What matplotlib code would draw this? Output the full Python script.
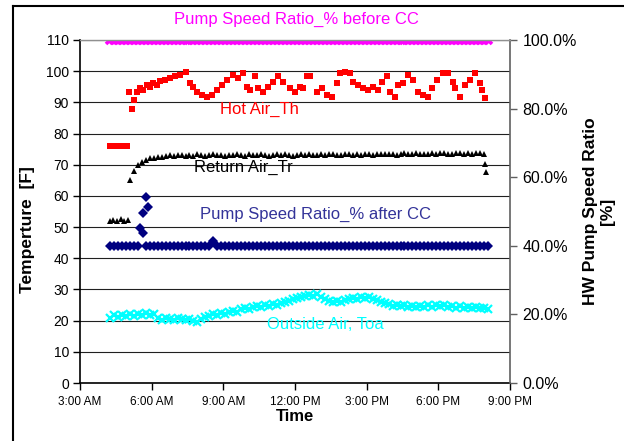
import numpy as np
import matplotlib
matplotlib.use("Agg")
import matplotlib.pyplot as plt
from matplotlib.lines import Line2D
from matplotlib.ticker import PercentFormatter

plt.rcParams['font.family'] = ['Liberation Sans', 'DejaVu Sans']

# time in hours of day, 10-minute log from 4:15 AM to 8:05 PM
grid = np.arange(4.25, 20.1, 1 / 6)

hour_ticks = [3, 6, 9, 12, 15, 18, 21]
hour_labels = ["3:00 AM", "6:00 AM", "9:00 AM", "12:00 PM", "3:00 PM", "6:00 PM", "9:00 PM"]

# Hot Air_Th [F]
hot_t = [4.27, 4.37, 4.47, 4.57, 4.67, 4.77, 4.87, 4.97,
         5.05, 5.16, 5.26, 5.37, 5.51, 5.64, 5.79, 5.93, 6.06, 6.21, 6.35, 6.56,
         6.77, 6.98, 7.19, 7.44, 7.60, 7.73, 7.88, 8.09, 8.30, 8.51, 8.72, 8.93,
         9.14, 9.40, 9.61, 9.82, 9.98, 10.12, 10.33, 10.45, 10.66, 10.87, 11.08,
         11.29, 11.50, 11.79, 12.00, 12.21, 12.33, 12.49, 12.63, 12.91, 13.11,
         13.32, 13.54, 13.75, 13.88, 14.09, 14.30, 14.44, 14.65, 14.86, 15.07,
         15.28, 15.49, 15.63, 15.84, 15.98, 16.19, 16.32, 16.53, 16.74, 16.95,
         17.16, 17.37, 17.58, 17.72, 17.93, 18.21, 18.42, 18.63, 18.70, 18.91,
         19.12, 19.32, 19.53, 19.74, 19.81, 19.95]
hot_v = [76, 76, 76, 76, 76, 76, 76, 76,
         93.4, 87.9, 90.8, 93.4, 94.5, 94.0, 95.6, 95.0, 96.1, 95.6, 96.7, 97.2,
         97.7, 98.3, 98.8, 99.6, 96.1, 95.0, 93.4, 92.4, 91.8, 92.4, 94.0, 95.6,
         97.2, 98.8, 97.7, 99.3, 95.0, 94.0, 98.3, 94.5, 93.4, 95.0, 96.6,
         98.3, 96.6, 94.5, 93.4, 95.0, 94.5, 98.3, 98.3, 93.4, 94.5,
         92.4, 91.8, 96.1, 99.3, 99.8, 99.3, 96.6, 95.6, 94.5, 94.0,
         95.0, 94.0, 96.6, 98.3, 93.4, 91.8, 95.6, 96.1, 98.8, 97.2,
         93.4, 92.4, 91.8, 94.5, 97.2, 99.3, 99.3, 96.6, 94.5, 91.8,
         95.6, 97.2, 99.3, 96.1, 94.0, 91.3]

# Return Air_Tr [F]
ret_early_t = [4.25, 4.4, 4.55, 4.7, 4.85, 5.0]
ret_early_v = [52.0, 52.4, 52.0, 52.5, 52.1, 52.3]
ret_v = [np.nan, np.nan, np.nan, np.nan, np.nan, 65.0, 68.0, 69.8, 70.8, 71.5,
         72.0, 72.3, 72.6, 72.4, 72.8, 73.0, 72.7, 73.1, 73.0, 72.8,
         73.2, 72.9, 73.3, 73.0, 72.8, 73.2, 73.4, 73.0, 73.1, 72.8,
         73.2, 73.0, 73.4, 73.1, 72.9, 73.3, 73.0, 73.2, 73.5, 73.1,
         72.9, 73.2, 73.4, 73.0, 73.3, 73.1, 72.9, 73.2, 73.4, 73.1,
         73.3, 73.0, 73.2, 73.4, 73.1, 73.3, 73.5, 73.2, 73.0, 73.3,
         73.5, 73.2, 73.4, 73.1, 73.3, 73.6, 73.2, 73.4, 73.5, 73.3,
         73.6, 73.4, 73.2, 73.5, 73.7, 73.4, 73.6, 73.8, 73.5, 73.3,
         73.6, 73.8, 73.5, 73.7, 73.9, 73.6, 73.4, 73.7, 73.9, 73.6,
         73.8, 73.5, 73.7, 73.9, 73.6, np.nan]
ret_tail_t = [19.97, 19.98]
ret_tail_v = [70.3, 67.8]

# Outside Air, Toa [F]
toa_v = [21.0, 21.8, 21.2, 21.9, 21.4, 22.0, 21.5, 22.2, 21.7, 22.3,
         21.8, 22.1, 20.8, 20.3, 21.0, 20.5, 20.2, 20.8, 20.4, 20.1,
         20.6, 20.0, 19.6, 20.4, 21.2, 21.6, 22.0, 21.7, 22.4, 22.0,
         22.8, 23.2, 22.9, 23.6, 24.0, 23.6, 24.3, 24.8, 24.4, 25.0,
         24.6, 25.2, 25.0, 25.6, 26.0, 26.4, 26.8, 27.2, 27.6, 28.0,
         28.3, 28.0, 28.4, 27.6, 27.0, 26.4, 26.0, 26.3, 26.0, 26.6,
         26.9, 27.3, 27.0, 27.5, 27.2, 27.6, 27.1, 26.6, 26.0, 25.6,
         25.2, 24.8, 25.1, 24.6, 24.9, 24.4, 24.8, 24.3, 24.7, 24.4,
         24.9, 24.5, 25.0, 24.6, 24.9, 24.3, 24.7, 24.2, 24.6, 24.1,
         24.5, 24.0, 24.4, 23.9, 24.2, 23.8]

# Pump Speed Ratio before CC [fraction]
before_v = [1.0, 1.0, 1.0, 1.0, 1.0, 1.0, 1.0, 1.0, 1.0, 1.0, 1.0, 1.0,
            1.0, 1.0, 1.0, 1.0, 1.0, 1.0, 1.0, 1.0, 1.0, 1.0, 1.0, 1.0,
            1.0, 1.0, 1.0, 1.0, 1.0, 1.0, 1.0, 1.0, 1.0, 1.0, 1.0, 1.0,
            1.0, 1.0, 1.0, 1.0, 1.0, 1.0, 1.0, 1.0, 1.0, 1.0, 1.0, 1.0,
            1.0, 1.0, 1.0, 1.0, 1.0, 1.0, 1.0, 1.0, 1.0, 1.0, 1.0, 1.0,
            1.0, 1.0, 1.0, 1.0, 1.0, 1.0, 1.0, 1.0, 1.0, 1.0, 1.0, 1.0,
            1.0, 1.0, 1.0, 1.0, 1.0, 1.0, 1.0, 1.0, 1.0, 1.0, 1.0, 1.0,
            1.0, 1.0, 1.0, 1.0, 1.0, 1.0, 1.0, 1.0, 1.0, 1.0, 1.0, 1.0]

# Pump Speed Ratio after CC [fraction]
after_v = [0.40, 0.40, 0.40, 0.40, 0.40, 0.40, 0.40, 0.40, np.nan, 0.40,
           0.40, 0.40, 0.40, 0.40, 0.40, 0.40, 0.40, 0.40, 0.40, 0.40,
           0.40, 0.40, 0.40, 0.40, 0.40, 0.40, 0.415, 0.40, 0.40, 0.40,
           0.40, 0.40, 0.40, 0.40, 0.40, 0.40, 0.40, 0.40, 0.40, 0.40,
           0.40, 0.40, 0.40, 0.40, 0.40, 0.40, 0.40, 0.40, 0.40, 0.40,
           0.40, 0.40, 0.40, 0.40, 0.40, 0.40, 0.40, 0.40, 0.40, 0.40,
           0.40, 0.40, 0.40, 0.40, 0.40, 0.40, 0.40, 0.40, 0.40, 0.40,
           0.40, 0.40, 0.40, 0.40, 0.40, 0.40, 0.40, 0.40, 0.40, 0.40,
           0.40, 0.40, 0.40, 0.40, 0.40, 0.40, 0.40, 0.40, 0.40, 0.40,
           0.40, 0.40, 0.40, 0.40, 0.40, 0.40]
after_jump_t = [5.51, 5.62, 5.65, 5.76, 5.86]
after_jump_v = [0.451, 0.436, 0.495, 0.541, 0.514]

fig = plt.figure(figsize=(6.24, 4.41), dpi=100)
ax = fig.add_axes([0.1282, 0.1315, 0.6891, 0.7778])
ax2 = ax.twinx()

# temperatures on the left axis
ax.plot(hot_t, hot_v, ls='none', marker='s', ms=4.3, color='#ff0000', mew=0)
ax.plot(ret_early_t, ret_early_v, ls='none', marker='^', ms=4.6, color='black', mew=0)
ax.plot(grid, ret_v, ls='none', marker='^', ms=4.6, color='black', mew=0)
ax.plot(ret_tail_t, ret_tail_v, ls='none', marker='^', ms=4.6, color='black', mew=0)
ax.plot(grid, toa_v, ls='none', marker='x', ms=5.5, mew=1.6, color='#00ffff')

# pump speed ratios on the right axis
ax2.plot(grid, before_v, ls='none', marker='x', ms=6, mew=2.6, color='#ff00ff')
ax2.plot(grid, after_v, ls='none', marker='D', ms=5, mew=0, color='#000080')
ax2.plot(after_jump_t, after_jump_v, ls='none', marker='D', ms=5, mew=0, color='#000080')

ax.set_xlim(3, 21)
ax.set_ylim(0, 110)
ax2.set_ylim(0, 1.0)
ax.set_xticks(hour_ticks)
ax.set_xticklabels(hour_labels)
ax.set_yticks(np.arange(0, 111, 10))
ax2.set_yticks(np.arange(0, 1.01, 0.2))
ax2.yaxis.set_major_formatter(PercentFormatter(1.0, decimals=1))

ax.yaxis.grid(True, color='#202020', lw=0.8)
ax.set_axisbelow(True)

ax.tick_params(axis='x', direction='out', length=5, width=1, labelsize=8.5, pad=4)
ax.tick_params(axis='y', direction='out', length=5, width=1, labelsize=10, pad=3)
ax2.tick_params(axis='y', direction='out', length=5, width=1, labelsize=11.5, pad=4,
                color='#606060')

for s in ['top', 'right']:
    ax.spines[s].set_visible(False)
ax.spines['left'].set_linewidth(1.2)
ax.spines['bottom'].set_linewidth(1.2)
for s in ['left', 'bottom']:
    ax2.spines[s].set_visible(False)
ax2.spines['top'].set_color('#909090')
ax2.spines['top'].set_linewidth(1.0)
ax2.spines['right'].set_color('#606060')
ax2.spines['right'].set_linewidth(1.2)

ax.set_xlabel('Time', fontsize=12, fontweight='bold')
ax.xaxis.set_label_coords(0.5, -0.075)
ax.set_ylabel('Temperture  [F]', fontsize=12.5, fontweight='bold')
ax.yaxis.set_label_coords(-0.105, 0.446)
ax2.set_ylabel('HW Pump Speed Ratio\n[%]', fontsize=12.5, fontweight='bold')
ax2.yaxis.set_label_coords(1.17, 0.5)

# series captions
ax.text(12.04, 116.7, 'Pump Speed Ratio_% before CC', color='#ff00ff', fontsize=12,
        ha='center', va='center', clip_on=False)
ax.text(10.53, 87.6, 'Hot Air_Th', color='#ff0000', fontsize=12, ha='center', va='center')
ax.text(9.82, 69.0, 'Return Air_Tr', color='black', fontsize=12, ha='center', va='center')
ax.text(12.84, 54.2, 'Pump Speed Ratio_% after CC', color='#333399', fontsize=12,
        ha='center', va='center')
ax.text(13.26, 18.9, 'Outside Air, Toa', color='#00ffff', fontsize=12, ha='center', va='center')

# chart frame
fig.add_artist(Line2D([0.0208, 0.0208], [0.0, 0.9864], color='black', lw=1.5))
fig.add_artist(Line2D([0.0208, 1.0], [0.9864, 0.9864], color='black', lw=1.5))

fig.savefig('out.png', dpi=100)
